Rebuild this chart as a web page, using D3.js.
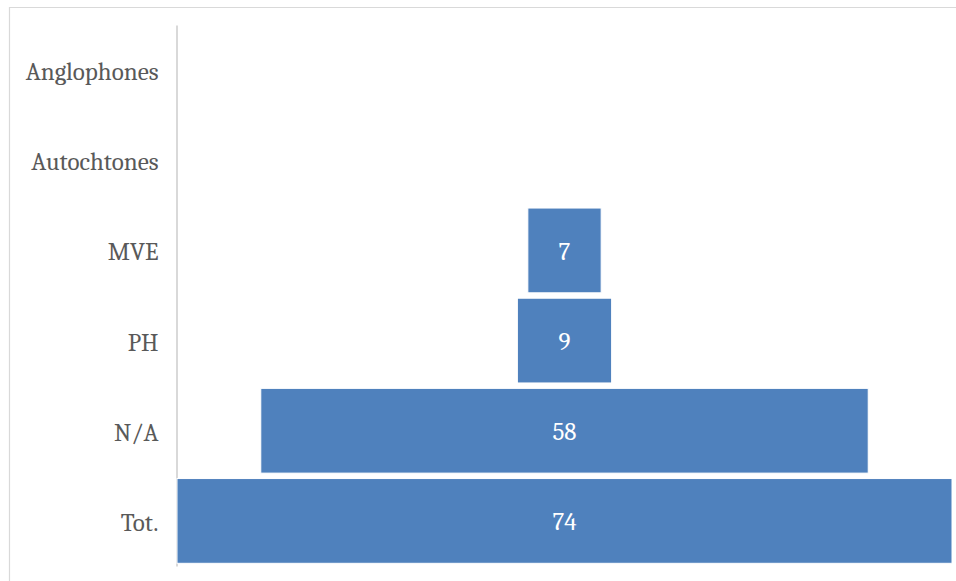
<!DOCTYPE html>
<html><head><meta charset="utf-8">
<script src="https://cdn.jsdelivr.net/npm/d3@7"></script>
<style>body{margin:0;background:#fff}svg{display:block}</style>
</head><body>
<svg id="c" width="956" height="581"></svg>
<script>
const categories = ["Anglophones","Autochtones","MVE","PH","N/A","Tot."];
const values = [0,0,7,9,58,74];

(function(){
const svg = d3.select("#c");
// chart frame
svg.append("path").attr("d","M9.5,590 V7.5 H960").attr("fill","none").attr("stroke","#d9d9d9").attr("stroke-width",1.2);

const mLeft = 177, mRight = 952, mTop = 25, mBottom = 566;
const x = d3.scaleLinear().domain([0, d3.max(values)]).range([0, mRight - mLeft]);
const cx = (mLeft + mRight) / 2;
const y = d3.scaleBand().domain(categories).range([mTop, mBottom]).paddingInner(0.06).paddingOuter(0.03);
const font = "Cambria, 'Liberation Serif', serif";

const axis = d3.axisLeft(y).tickSize(0).tickSizeOuter(0).tickPadding(18);
const g = svg.append("g").attr("transform", `translate(${mLeft - 0.5},0)`).call(axis);
g.select(".domain").attr("stroke","#d9d9d9").attr("stroke-width",2);
g.selectAll("text").attr("font-family",font).attr("font-size",25).attr("fill","#595959").attr("dy","0.4em");

const data = categories.map((c,i)=>({c, v: values[i]})).filter(d=>d.v>0);
svg.selectAll("rect.bar").data(data).join("rect").attr("class","bar")
  .attr("x", d => cx - x(d.v)/2)
  .attr("width", d => x(d.v))
  .attr("y", d => y(d.c))
  .attr("height", y.bandwidth())
  .attr("fill","#4f81bd").attr("stroke","#ffffff").attr("stroke-width",1);

svg.selectAll("text.val").data(data).join("text").attr("class","val")
  .attr("x", cx).attr("y", d => y(d.c) + y.bandwidth()/2 + 1)
  .attr("text-anchor","middle").attr("dominant-baseline","central")
  .attr("font-family",font).attr("font-size",25).attr("fill","#ffffff")
  .text(d => d.v);
})();
</script>
</body></html>
